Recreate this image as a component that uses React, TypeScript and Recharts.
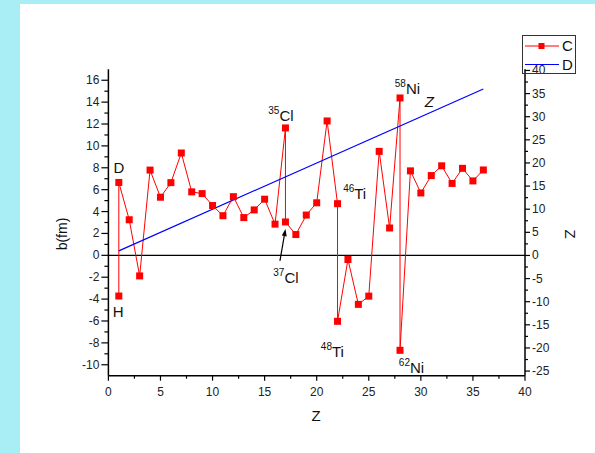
import React from 'react';
import { LineChart, Line, XAxis, YAxis, ReferenceLine, ReferenceDot, Legend } from 'recharts';

// series C: scattering length b(fm) vs Z (isotopes share a Z)
const cZ = [1, 1, 2, 3, 4, 5, 6, 7, 8, 9, 10, 11, 12, 13, 14, 15, 16, 17, 17, 18, 19, 20, 21, 22, 22, 23, 24, 25, 26, 27, 28, 28, 29, 30, 31, 32, 33, 34, 35, 36];
const cB = [-3.72, 6.66, 3.25, -1.88, 7.79, 5.31, 6.64, 9.35, 5.8, 5.64, 4.55, 3.62, 5.36, 3.45, 4.15, 5.13, 2.85, 11.64, 3.05, 1.9, 3.68, 4.8, 12.28, 4.72, -6.03, -0.38, -4.48, -3.73, 9.5, 2.5, 14.38, -8.68, 7.72, 5.7, 7.29, 8.18, 6.57, 7.95, 6.8, 7.8];

// series D: Z on the right axis
const dZ = [1, 36];
const dVal = [1, 36];

const xTicks = [0, 2.5, 5, 7.5, 10, 12.5, 15, 17.5, 20, 22.5, 25, 27.5, 30, 32.5, 35, 37.5, 40];
const leftTicks = [-10, -9, -8, -7, -6, -5, -4, -3, -2, -1, 0, 1, 2, 3, 4, 5, 6, 7, 8, 9, 10, 11, 12, 13, 14, 15, 16];
const rightTicks = [-25, -22.5, -20, -17.5, -15, -12.5, -10, -7.5, -5, -2.5, 0, 2.5, 5, 7.5, 10, 12.5, 15, 17.5, 20, 22.5, 25, 27.5, 30, 32.5, 35, 37.5, 40];

const notes = [
  { z: 0.5, b: 7.5, sup: '', text: 'D' },
  { z: 0.41, b: -5.6, sup: '', text: 'H' },
  { z: 15.35, b: 12.23, sup: '35', text: 'Cl' },
  { z: 15.83, b: -2.54, sup: '37', text: 'Cl' },
  { z: 22.54, b: 5.14, sup: '46', text: 'Ti' },
  { z: 20.4, b: -9.31, sup: '48', text: 'Ti' },
  { z: 27.5, b: 14.76, sup: '58', text: 'Ni' },
  { z: 27.89, b: -10.77, sup: '62', text: 'Ni' },
];

const arrow = [{ x: 16.47, y: -0.5 }, { x: 17.0, y: 2.4 }];

const cData = cZ.map((z, i) => ({ z, b: cB[i] }));
const dData = dZ.map((z, i) => ({ z, d: dVal[i] }));

const FONT = "Arial, 'Liberation Sans', sans-serif";

const BottomTick = (p: any) => {
  const { x, y, payload } = p;
  const major = payload.value % 5 === 0;
  return (
    <g>
      <line x1={x} y1={y} x2={x} y2={y + (major ? 5 : 3)} stroke="#000" strokeWidth={1.2} />
      {major && (
        <text x={x} y={y + 20} textAnchor="middle" fontSize={12} fontFamily={FONT} fill="#222">{payload.value}</text>
      )}
    </g>
  );
};

const TopTick = (p: any) => {
  const { x, y, payload } = p;
  const major = payload.value % 5 === 0;
  return <line x1={x} y1={y} x2={x} y2={y + (major ? 5 : 3)} stroke="#000" strokeWidth={1.2} />;
};

const LeftTick = (p: any) => {
  const { x, y, payload } = p;
  const major = payload.value % 2 === 0;
  return (
    <g>
      <line x1={x} y1={y} x2={x - (major ? 7 : 4)} y2={y} stroke="#000" strokeWidth={1.2} />
      {major && (
        <text x={x - 9} y={y + 4} textAnchor="end" fontSize={12} fontFamily={FONT} fill="#222">{payload.value}</text>
      )}
    </g>
  );
};

const RightTick = (p: any) => {
  const { x, y, payload } = p;
  const major = payload.value % 5 === 0;
  return (
    <g>
      <line x1={x} y1={y} x2={x + (major ? 5 : 3)} y2={y} stroke="#000" strokeWidth={1.2} />
      {major && (
        <text x={x + 7} y={y + 4} textAnchor="start" fontSize={12} fontFamily={FONT} fill="#222">{payload.value}</text>
      )}
    </g>
  );
};

const SquareDot = (p: any) => {
  const { cx, cy, index } = p;
  return <rect key={index} x={cx - 3.5} y={cy - 3.5} width={7} height={7} fill="#ff0000" />;
};

const Arrow = (p: any) => {
  const { x1, y1, x2, y2 } = p;
  const ang = Math.atan2(y2 - y1, x2 - x1);
  const len = 7;
  const w = 2.5;
  const bx = x2 - len * Math.cos(ang);
  const by = y2 - len * Math.sin(ang);
  const nx = -Math.sin(ang) * w;
  const ny = Math.cos(ang) * w;
  return (
    <g>
      <line x1={x1} y1={y1} x2={bx} y2={by} stroke="#000" strokeWidth={1.2} />
      <polygon points={`${x2},${y2} ${bx + nx},${by + ny} ${bx - nx},${by - ny}`} fill="#000" />
    </g>
  );
};

const LegendBox = (p: any) => {
  const items = (p.payload || []) as any[];
  return (
    <svg width={54} height={39} style={{ display: 'block' }}>
      <rect x={0.5} y={0.5} width={53} height={38} fill="none" stroke="#333" />
      {items.map((it, i) => {
        const cy = 11 + i * 18.5;
        return (
          <g key={it.value}>
            <line x1={3} y1={cy} x2={37} y2={cy} stroke={it.color} strokeWidth={1.2} />
            {it.value === 'C' && <rect x={16.5} y={cy - 3} width={6} height={6} fill={it.color} />}
            <text x={40} y={cy + 5} fontSize={15} fontFamily={FONT} fill="#111">{it.value}</text>
          </g>
        );
      })}
    </svg>
  );
};

const App = () => (
  <div style={{ position: 'absolute', left: 0, top: 0, width: 595, height: 453, background: '#a8eef4' }}>
    <div style={{ position: 'absolute', left: 20, top: 4, width: 575, height: 449, background: '#fff' }} />
    <div style={{ position: 'absolute', left: 0, top: 0 }}>
      <LineChart width={595} height={453} margin={{ top: 69.3, right: 30, bottom: 37.3, left: 68.4 }}>
        <XAxis
          dataKey="z"
          type="number"
          domain={[0, 40]}
          ticks={xTicks}
          interval={0}
          allowDataOverflow
          height={40}
          tickSize={0}
          tickMargin={0}
          tickLine={false}
          axisLine={{ stroke: '#000', strokeWidth: 1.5 }}
          tick={BottomTick}
        />
        <XAxis
          xAxisId="top"
          orientation="top"
          dataKey="z"
          type="number"
          domain={[0, 40]}
          ticks={xTicks}
          interval={0}
          allowDataOverflow
          height={0}
          tickSize={0}
          tickMargin={0}
          tickLine={false}
          axisLine={{ stroke: '#000', strokeWidth: 1.5 }}
          tick={TopTick}
        />
        <YAxis
          yAxisId="left"
          type="number"
          domain={[-11, 17]}
          ticks={leftTicks}
          interval={0}
          allowDataOverflow
          width={40}
          tickSize={0}
          tickMargin={0}
          tickLine={false}
          axisLine={{ stroke: '#000', strokeWidth: 1.5 }}
          tick={LeftTick}
        />
        <YAxis
          yAxisId="right"
          orientation="right"
          type="number"
          domain={[-26, 40.25]}
          ticks={rightTicks}
          interval={0}
          allowDataOverflow
          width={40}
          tickSize={0}
          tickMargin={0}
          tickLine={false}
          axisLine={{ stroke: '#000', strokeWidth: 1.5 }}
          tick={RightTick}
        />
        <ReferenceLine yAxisId="left" y={0} stroke="#000" strokeWidth={1.3} />
        <Line
          name="C"
          data={cData}
          dataKey="b"
          yAxisId="left"
          type="linear"
          stroke="#ff0000"
          strokeWidth={1}
          dot={SquareDot}
          activeDot={false}
          isAnimationActive={false}
        />
        <Line
          name="D"
          data={dData}
          dataKey="d"
          yAxisId="right"
          type="linear"
          stroke="#0000ff"
          strokeWidth={1.2}
          dot={false}
          activeDot={false}
          isAnimationActive={false}
        />
        <ReferenceLine yAxisId="left" segment={arrow} shape={Arrow} />
        {notes.map((n) => (
          <ReferenceDot
            key={n.sup + n.text}
            yAxisId="left"
            x={n.z}
            y={n.b}
            r={0}
            shape={(p: any) => (
              <text x={p.cx} y={p.cy} fontFamily={FONT} fill="#111">
                {n.sup && <tspan fontSize={10} dy={-7}>{n.sup}</tspan>}
                <tspan fontSize={15} dy={n.sup ? 7 : 0}>{n.text}</tspan>
              </text>
            )}
          />
        ))}
        <ReferenceDot
          yAxisId="left"
          x={30.38}
          y={13.55}
          r={0}
          shape={(p: any) => (
            <text x={p.cx} y={p.cy} fontFamily={FONT} fontSize={15} fontStyle="italic" fill="#111">Z</text>
          )}
        />
        <text x={316} y={421} textAnchor="middle" fontFamily={FONT} fontSize={15} fill="#111">Z</text>
        <text x={67} y={234} textAnchor="middle" fontFamily={FONT} fontSize={14} fill="#111" transform="rotate(-90 67 234)">b(fm)</text>
        <text x={565} y={234} textAnchor="middle" fontFamily={FONT} fontSize={15} fill="#111" transform="rotate(90 565 234)">Z</text>
        <Legend
          layout="vertical"
          align="center"
          verticalAlign="middle"
          content={LegendBox}
          wrapperStyle={{ position: 'absolute', left: 522, top: 35, width: 54, height: 39 }}
        />
      </LineChart>
    </div>
  </div>
);

export default App;
